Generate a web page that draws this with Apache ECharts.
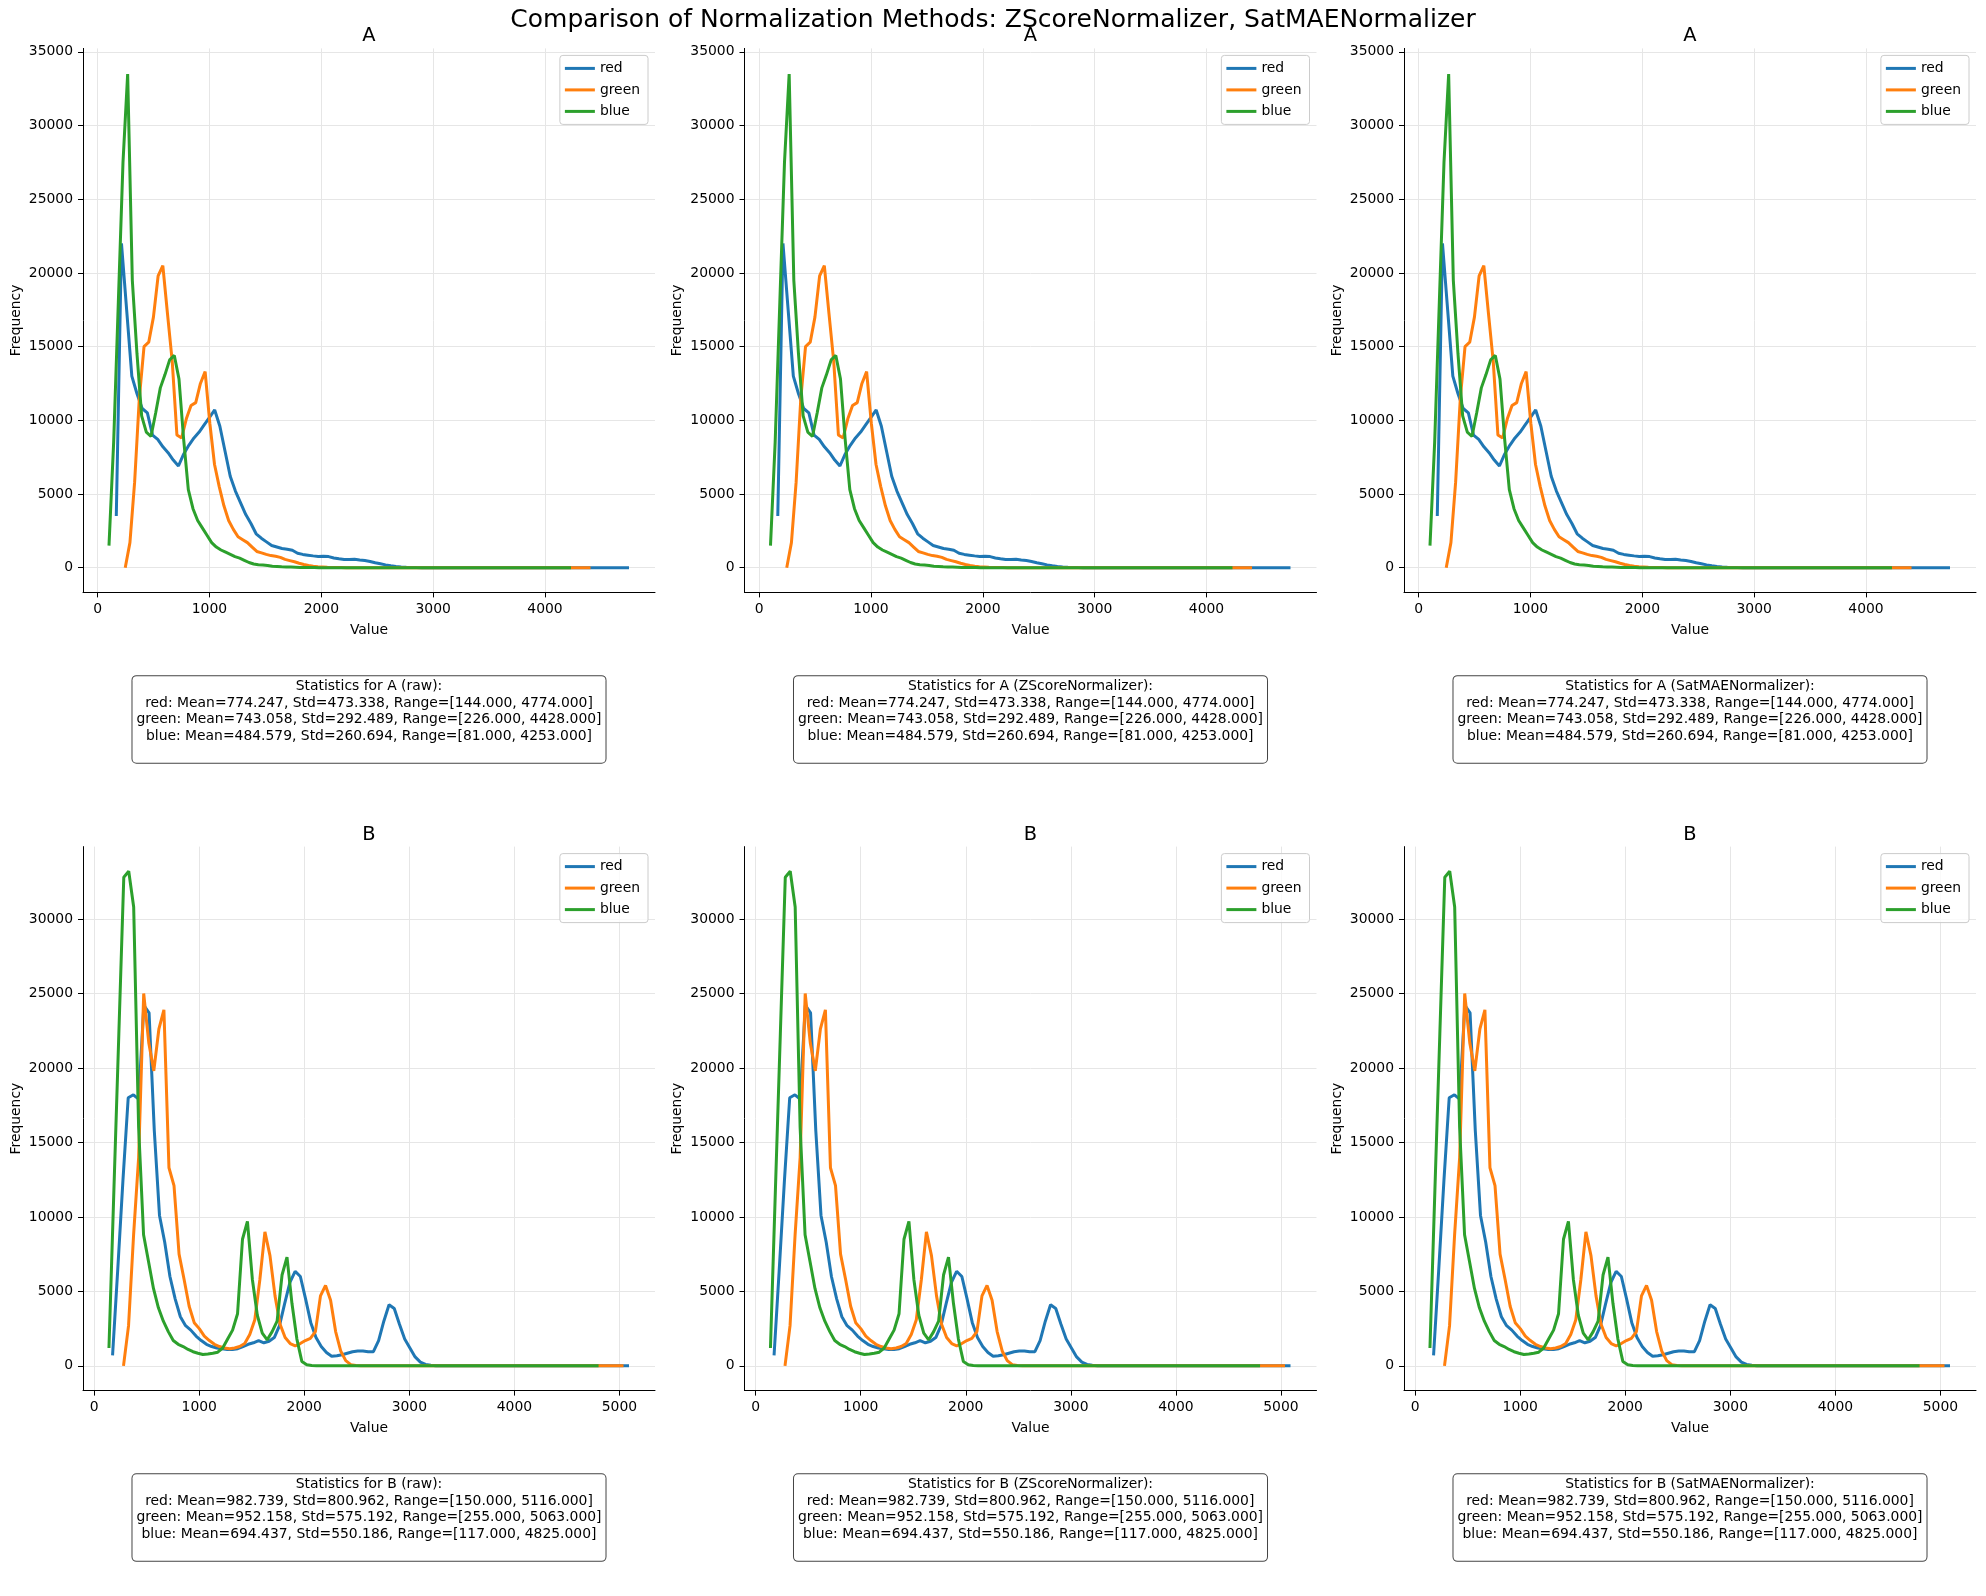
<!DOCTYPE html>
<html>
<head>
<meta charset="utf-8">
<script src="https://cdn.jsdelivr.net/npm/echarts@6/dist/echarts.min.js"></script>
<style>
html, body { margin: 0; padding: 0; background: #fff; }
#chart { width: 1986px; height: 1596px; }
</style>
</head>
<body>
<div id="chart"></div>
<script>
var channels = ['red', 'green', 'blue'];
var methods = ['raw', 'ZScoreNormalizer', 'SatMAENormalizer'];
var images = ['A', 'B'];
var colors = ['#1f77b4', '#ff7f0e', '#2ca02c'];

// image A : stats per channel (red, green, blue)
var aMean = [774.247, 743.058, 484.579];
var aStd = [473.338, 292.489, 260.694];
var aMin = [144, 226, 81];
var aMax = [4774, 4428, 4253];

// image B
var bMean = [982.739, 952.158, 694.437];
var bStd = [800.962, 575.192, 550.186];
var bMin = [150, 255, 117];
var bMax = [5116, 5063, 4825];

// histogram counts, 100 bins between min and max
var aRed = [
  3500, 22000, 17500, 13000, 11800, 10800, 10500, 9000, 8700, 8200,
  7800, 7300, 6900, 7700, 8300, 8800, 9200, 9700, 10200, 10700,
  9600, 7900, 6200, 5200, 4400, 3600, 3000, 2300, 2000, 1750,
  1500, 1400, 1300, 1250, 1180, 980, 900, 850, 800, 760,
  780, 750, 660, 600, 550, 560, 570, 520, 480, 420,
  330, 260, 190, 130, 80, 45, 25, 12, 6, 3,
  0, 0, 0, 0, 0, 0, 0, 0, 0, 0,
  0, 0, 0, 0, 0, 0, 0, 0, 0, 0,
  0, 0, 0, 0, 0, 0, 0, 0, 0, 0,
  0, 0, 0, 0, 0, 0, 0, 0, 0, 0
];
var aGreen = [
  0, 1700, 5800, 11500, 15000, 15300, 17000, 19800, 20500, 17200,
  14000, 9000, 8800, 10100, 11000, 11200, 12500, 13300, 9800, 7000,
  5500, 4200, 3200, 2600, 2100, 1900, 1700, 1400, 1100, 1000,
  900, 820, 780, 700, 560, 480, 400, 300, 220, 150,
  100, 70, 50, 30, 20, 10, 5, 0, 0, 0,
  0, 0, 0, 0, 0, 0, 0, 0, 0, 0,
  0, 0, 0, 0, 0, 0, 0, 0, 0, 0,
  0, 0, 0, 0, 0, 0, 0, 0, 0, 0,
  0, 0, 0, 0, 0, 0, 0, 0, 0, 0,
  0, 0, 0, 0, 0, 0, 0, 0, 0, 0
];
var aBlue = [
  1500, 8500, 18000, 27500, 33500, 19500, 14500, 10300, 9200, 8900,
  10500, 12200, 13100, 14100, 14400, 12800, 8700, 5300, 4000, 3200,
  2700, 2200, 1700, 1400, 1200, 1050, 900, 750, 650, 500,
  350, 250, 200, 180, 150, 100, 80, 60, 50, 40,
  30, 20, 15, 10, 5, 0, 0, 0, 0, 0,
  0, 0, 0, 0, 0, 0, 0, 0, 0, 0,
  0, 0, 0, 0, 0, 0, 0, 0, 0, 0,
  0, 0, 0, 0, 0, 0, 0, 0, 0, 0,
  0, 0, 0, 0, 0, 0, 0, 0, 0, 0,
  0, 0, 0, 0, 0, 0, 0, 0, 0, 0
];
var bRed = [
  700, 6500, 12500, 18000, 18200, 17900, 24200, 23700, 15800, 10100,
  8300, 6000, 4500, 3300, 2700, 2400, 2000, 1700, 1450, 1300,
  1200, 1150, 1100, 1100, 1150, 1300, 1450, 1550, 1700, 1550,
  1650, 1900, 2700, 4200, 5600, 6350, 6000, 4500, 2900, 1900,
  1300, 900, 650, 680, 750, 850, 950, 1000, 1000, 950,
  950, 1700, 3000, 4100, 3850, 2800, 1800, 1200, 600, 250,
  100, 40, 15, 5, 0, 0, 0, 0, 0, 0,
  0, 0, 0, 0, 0, 0, 0, 0, 0, 0,
  0, 0, 0, 0, 0, 0, 0, 0, 0, 0,
  0, 0, 0, 0, 0, 0, 0, 0, 0, 0
];
var bGreen = [
  0, 2700, 8800, 14000, 25000, 21700, 19800, 22600, 23900, 13300,
  12100, 7500, 5800, 4000, 2900, 2500, 2000, 1700, 1450, 1300,
  1200, 1150, 1200, 1300, 1500, 2100, 3100, 5800, 9000, 7400,
  4700, 2800, 1900, 1500, 1350, 1500, 1700, 1850, 2300, 4700,
  5400, 4400, 2300, 1000, 350, 80, 20, 5, 0, 0,
  0, 0, 0, 0, 0, 0, 0, 0, 0, 0,
  0, 0, 0, 0, 0, 0, 0, 0, 0, 0,
  0, 0, 0, 0, 0, 0, 0, 0, 0, 0,
  0, 0, 0, 0, 0, 0, 0, 0, 0, 0,
  0, 0, 0, 0, 0, 0, 0, 0, 0, 0
];
var bBlue = [
  1200, 11800, 22300, 32800, 33200, 30800, 16000, 8800, 7000, 5200,
  3900, 3000, 2300, 1700, 1450, 1300, 1100, 950, 850, 760,
  800, 850, 920, 1200, 1800, 2400, 3500, 8500, 9700, 5800,
  3400, 2200, 1750, 2300, 3000, 6100, 7300, 4200, 1800, 300,
  80, 30, 10, 0, 0, 0, 0, 0, 0, 0,
  0, 0, 0, 0, 0, 0, 0, 0, 0, 0,
  0, 0, 0, 0, 0, 0, 0, 0, 0, 0,
  0, 0, 0, 0, 0, 0, 0, 0, 0, 0,
  0, 0, 0, 0, 0, 0, 0, 0, 0, 0,
  0, 0, 0, 0, 0, 0, 0, 0, 0, 0
];

var xTicksA = [0, 1000, 2000, 3000, 4000];
var xTicksB = [0, 1000, 2000, 3000, 4000, 5000];
var yTicksA = [0, 5000, 10000, 15000, 20000, 25000, 30000, 35000];
var yTicksB = [0, 5000, 10000, 15000, 20000, 25000, 30000];

var font = 'DejaVu Sans';
var gridLeft = [83, 744.5, 1404];
var gridTop = [48.4, 846.6];
var gridW = 572, gridH = 544;

// bin centres from the value range
function histPoints(vals, lo, hi) {
    var w = (hi - lo) / vals.length;
    return vals.map(function (v, i) { return [lo + (i + 0.5) * w, v]; });
}

function fmt(v) { return v.toFixed(3); }

function statsText(img, method, mean, std, mn, mx) {
    var lines = ['Statistics for ' + img + ' (' + method + '):'];
    for (var k = 0; k < 3; k++) {
        lines.push(channels[k] + ': Mean=' + fmt(mean[k]) + ', Std=' + fmt(std[k]) +
            ', Range=[' + fmt(mn[k]) + ', ' + fmt(mx[k]) + ']');
    }
    lines.push(' ');
    return lines.join('\n');
}

var rows = [
    { vals: [aRed, aGreen, aBlue], mean: aMean, std: aStd, min: aMin, max: aMax,
      xTicks: xTicksA, yTicks: yTicksA, xLim: [-130.5, 4983.3], yLim: [-1678, 35235] },
    { vals: [bRed, bGreen, bBlue], mean: bMean, std: bStd, min: bMin, max: bMax,
      xTicks: xTicksB, yTicks: yTicksB, xLim: [-106.5, 5338.6], yLim: [-1660, 34860] }
];

var option = {
    backgroundColor: '#fff',
    animation: false,
    grid: [], xAxis: [], yAxis: [], series: [], legend: [], graphic: []
};

option.graphic.push({
    type: 'text', x: 993, y: 20,
    style: { text: 'Comparison of Normalization Methods: ZScoreNormalizer, SatMAENormalizer',
        font: '25px "' + font + '"', fill: '#000',
        align: 'center', verticalAlign: 'middle', textAlign: 'center', textVerticalAlign: 'middle' }
});

var axisText = { color: '#000', fontSize: 13.9, fontFamily: font };
var blackLine = { color: '#000', width: 1 };

rows.forEach(function (row, r) {
    methods.forEach(function (method, c) {
        var g = option.grid.length;
        var left = gridLeft[c], top = gridTop[r];
        option.grid.push({ left: left, top: top, width: gridW, height: gridH });

        option.xAxis.push({
            gridIndex: g, type: 'value', min: row.xLim[0], max: row.xLim[1],
            name: 'Value', nameLocation: 'middle', nameGap: 31, nameTextStyle: axisText,
            axisLine: { show: true, onZero: false, lineStyle: blackLine },
            axisTick: { show: true, length: 5, customValues: row.xTicks, lineStyle: blackLine },
            axisLabel: { customValues: row.xTicks, margin: 10, color: '#000', fontSize: 13.9, fontFamily: font,
                formatter: function (v) { return String(v); } },
            splitLine: { show: true, lineStyle: { color: '#e6e6e6', width: 1 } }
        });
        option.yAxis.push({
            gridIndex: g, type: 'value', min: row.yLim[0], max: row.yLim[1],
            name: 'Frequency', nameLocation: 'middle', nameGap: 60, nameRotate: 90, nameTextStyle: axisText,
            axisLine: { show: true, onZero: false, lineStyle: blackLine },
            axisTick: { show: true, length: 5, customValues: row.yTicks, lineStyle: blackLine },
            axisLabel: { customValues: row.yTicks, margin: 10, color: '#000', fontSize: 13.9, fontFamily: font,
                formatter: function (v) { return String(v); } },
            splitLine: { show: true, lineStyle: { color: '#e6e6e6', width: 1 } }
        });

        channels.forEach(function (ch, k) {
            option.series.push({
                type: 'line', name: ch, xAxisIndex: g, yAxisIndex: g,
                data: histPoints(row.vals[k], row.min[k], row.max[k]),
                symbol: 'none', showSymbol: false,
                lineStyle: { color: colors[k], width: 3 },
                itemStyle: { color: colors[k] },
                z: 2 + k
            });
        });

        option.legend.push({
            data: channels, orient: 'vertical', selectedMode: false,
            right: 1986 - (left + gridW - 7), top: top + 7,
            icon: 'rect', itemWidth: 30, itemHeight: 3, itemGap: 7.5,
            padding: [6, 8, 6, 5],
            backgroundColor: 'rgba(255,255,255,0.8)',
            borderColor: '#cccccc', borderWidth: 1, borderRadius: 3,
            textStyle: { color: '#000', fontSize: 13.9, fontFamily: font }
        });

        // subplot title
        option.graphic.push({
            type: 'text', x: left + gridW / 2, y: top - 12,
            style: { text: images[r], font: '19.4px "' + font + '"', fill: '#000',
                align: 'center', verticalAlign: 'middle', textAlign: 'center', textVerticalAlign: 'middle' }
        });
        // stats box under the axes
        option.graphic.push({
            type: 'text', x: left + gridW / 2, y: top + gridH + 127,
            style: { text: statsText(images[r], method, row.mean, row.std, row.min, row.max),
                font: '13.9px "' + font + '"', fill: '#000', lineHeight: 16.5,
                align: 'center', verticalAlign: 'middle', textAlign: 'center', textVerticalAlign: 'middle',
                backgroundColor: '#fff', borderColor: '#444', borderWidth: 1, borderRadius: 4,
                padding: [2, 4] }
        });
    });
});

var myChart = echarts.init(document.getElementById('chart'));
myChart.setOption(option);
</script>
</body>
</html>
